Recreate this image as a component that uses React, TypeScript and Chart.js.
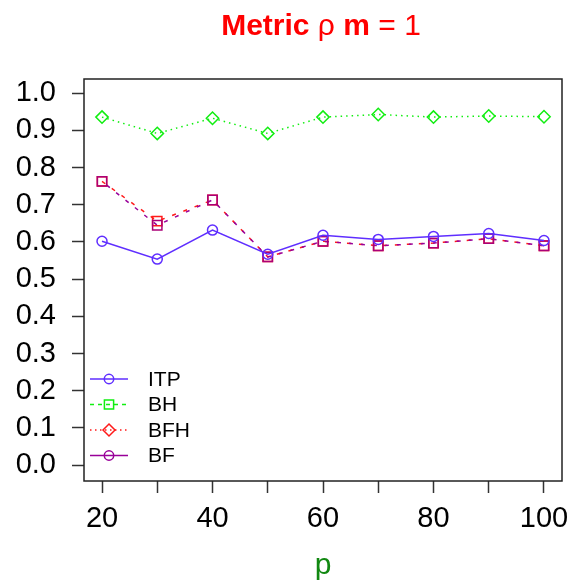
import React, { useEffect, useRef } from 'react';
import { Chart, registerables } from 'chart.js';

Chart.register(...registerables);

const FONT = '"Liberation Sans", Arial, Helvetica, sans-serif';

const pValues = [20, 30, 40, 50, 60, 70, 80, 90, 100];
const itpValues = [0.602, 0.554, 0.632, 0.567, 0.618, 0.607, 0.615, 0.623, 0.604];
const greenValues = [0.936, 0.892, 0.933, 0.892, 0.936, 0.943, 0.936, 0.939, 0.937];
const redValues = [0.763, 0.656, 0.713, 0.560, 0.602, 0.590, 0.597, 0.609, 0.590];
const purpleValues = [0.763, 0.645, 0.713, 0.560, 0.602, 0.590, 0.597, 0.609, 0.590];

const yTicks = [0, 0.1, 0.2, 0.3, 0.4, 0.5, 0.6, 0.7, 0.8, 0.9, 1.0];
const xTicks = [20, 30, 40, 50, 60, 70, 80, 90, 100];
const xLabels = [20, 40, 60, 80, 100];

const legendNames = ['ITP', 'BH', 'BFH', 'BF'];
const legendColors = ['#5f2eff', '#11ee11', '#ff1a1a', '#990099'];
const legendDash = [[], [4, 4], [1.5, 3.5], []];
const legendShapes = ['circle', 'square', 'diamond', 'circle'];

const BLUE = '#5f2eff';
const GREEN = '#11ee11';
const RED = '#ff1a1a';
const PURPLE = '#990099';

function drawShape(ctx: CanvasRenderingContext2D, shape: string, x: number, y: number) {
  ctx.beginPath();
  if (shape === 'circle') {
    ctx.arc(x, y, 4.7, 0, Math.PI * 2);
  } else if (shape === 'square') {
    ctx.rect(x - 4.6, y - 4.6, 9.2, 9.2);
  } else {
    ctx.moveTo(x, y - 6);
    ctx.lineTo(x + 6, y);
    ctx.lineTo(x, y + 6);
    ctx.lineTo(x - 6, y);
    ctx.closePath();
  }
  ctx.stroke();
}

const extrasPlugin = {
  id: 'extras',
  afterDraw(chart: any) {
    const { ctx, chartArea } = chart;
    const { left, right, top, bottom } = chartArea;
    ctx.save();
    // box
    ctx.strokeStyle = '#222';
    ctx.lineWidth = 1.5;
    ctx.setLineDash([]);
    ctx.strokeRect(left, top, right - left, bottom - top);

    // legend
    ctx.lineWidth = 1.5;
    ctx.font = `21px ${FONT}`;
    ctx.textBaseline = 'middle';
    ctx.textAlign = 'left';
    for (let i = 0; i < legendNames.length; i++) {
      const y = bottom - 25.5 * (legendNames.length - i);
      const x0 = left + 6;
      const x1 = left + 44;
      const xc = (x0 + x1) / 2;
      ctx.strokeStyle = legendColors[i];
      ctx.setLineDash(legendDash[i]);
      ctx.beginPath();
      ctx.moveTo(x0, y);
      ctx.lineTo(x1, y);
      ctx.stroke();
      ctx.setLineDash([]);
      drawShape(ctx, legendShapes[i], xc, y);
      ctx.fillStyle = '#000';
      ctx.fillText(legendNames[i], left + 64, y + 1);
    }

    // title with mixed weights
    const parts: [string, string][] = [
      ['Metric ', 'bold'],
      ['ρ', 'normal'],
      [' m', 'bold'],
      [' = 1', 'normal'],
    ];
    let total = 0;
    const widths: number[] = [];
    for (const [t, w] of parts) {
      ctx.font = `${w} 30px ${FONT}`;
      const wd = ctx.measureText(t).width;
      widths.push(wd);
      total += wd;
    }
    let x = (left + right) / 2 - total / 2 - 2;
    ctx.fillStyle = '#ff0000';
    ctx.textBaseline = 'alphabetic';
    for (let i = 0; i < parts.length; i++) {
      ctx.font = `${parts[i][1]} 30px ${FONT}`;
      ctx.fillText(parts[i][0], x, 34.5);
      x += widths[i];
    }
    ctx.restore();
  },
};

export default function App() {
  const ref = useRef<HTMLCanvasElement | null>(null);
  useEffect(() => {
    if (!ref.current) return;
    const chart = new Chart(ref.current, {
      type: 'line',
      data: {
        datasets: [
          {
            label: 'ITP',
            data: pValues.map((p, i) => ({ x: p, y: itpValues[i] })),
            borderColor: BLUE,
            borderWidth: 1.5,
            pointStyle: 'circle',
            pointRadius: 5,
            pointBorderWidth: 1.5,
            pointBorderColor: BLUE,
            pointBackgroundColor: 'rgba(0,0,0,0)',
            fill: false,
            tension: 0,
          },
          {
            label: 'BH',
            data: pValues.map((p, i) => ({ x: p, y: greenValues[i] })),
            borderColor: GREEN,
            borderWidth: 1.5,
            borderDash: [1.5, 4],
            pointStyle: 'rectRot',
            pointRadius: 6.2,
            pointBorderWidth: 1.5,
            pointBorderColor: GREEN,
            pointBackgroundColor: 'rgba(0,0,0,0)',
            fill: false,
            tension: 0,
          },
          {
            label: 'BF',
            data: pValues.map((p, i) => ({ x: p, y: purpleValues[i] })),
            borderColor: PURPLE,
            borderWidth: 1.5,
            borderDash: [4, 8],
            borderDashOffset: 6,
            pointStyle: 'rect',
            pointRadius: 6.6,
            pointBorderWidth: 1.5,
            pointBorderColor: '#aa0077',
            pointBackgroundColor: 'rgba(0,0,0,0)',
            fill: false,
            tension: 0,
          },
          {
            label: 'BFH',
            data: pValues.map((p, i) => ({ x: p, y: redValues[i] })),
            borderColor: RED,
            borderWidth: 1.5,
            borderDash: [4, 8],
            pointStyle: 'rect',
            pointRadius: 6.6,
            pointBorderWidth: 1.5,
            pointBorderColor: RED,
            pointBackgroundColor: 'rgba(0,0,0,0)',
            fill: false,
            tension: 0,
          },
        ],
      },
      options: {
        animation: false,
        responsive: false,
        maintainAspectRatio: false,
        layout: { padding: { top: 79, right: 11, left: 0, bottom: 0 } },
        plugins: {
          legend: { display: false },
          title: { display: false },
          tooltip: { enabled: false },
        },
        scales: {
          x: {
            type: 'linear',
            min: 16.74,
            max: 103.26,
            afterFit: (s: any) => {
              s.height = 107;
              s.paddingLeft = 0;
              s.paddingRight = 0;
            },
            afterBuildTicks: (s: any) => {
              s.ticks = xTicks.map((v) => ({ value: v }));
            },
            border: { display: false },
            grid: {
              drawOnChartArea: false,
              drawTicks: true,
              tickLength: 12,
              tickColor: '#333',
              tickWidth: 1.5,
            },
            ticks: {
              autoSkip: false,
              maxRotation: 0,
              minRotation: 0,
              padding: 9,
              color: '#000',
              font: { size: 29, family: FONT },
              callback: (v: any) => (xLabels.includes(Number(v)) ? String(v) : ''),
            },
            title: {
              display: true,
              text: 'p',
              color: '#118811',
              font: { size: 30, family: FONT },
              padding: { top: 0, bottom: 4 },
            },
          },
          y: {
            type: 'linear',
            min: -0.043,
            max: 1.0385,
            afterFit: (s: any) => {
              s.width = 84;
              s.paddingTop = 0;
              s.paddingBottom = 0;
            },
            afterBuildTicks: (s: any) => {
              s.ticks = yTicks.map((v) => ({ value: v }));
            },
            border: { display: false },
            grid: {
              drawOnChartArea: false,
              drawTicks: true,
              tickLength: 12,
              tickColor: '#333',
              tickWidth: 1.5,
            },
            ticks: {
              autoSkip: false,
              padding: 16,
              color: '#000',
              font: { size: 29, family: FONT },
              callback: (v: any) => Number(v).toFixed(1),
            },
          },
        },
      },
      plugins: [extrasPlugin],
    } as any);
    return () => chart.destroy();
  }, []);

  return (
    <div style={{ position: 'absolute', left: 0, top: 0, width: 573, height: 588, background: '#fff' }}>
      <canvas ref={ref} width={573} height={588} style={{ width: 573, height: 588, display: 'block' }} />
    </div>
  );
}
